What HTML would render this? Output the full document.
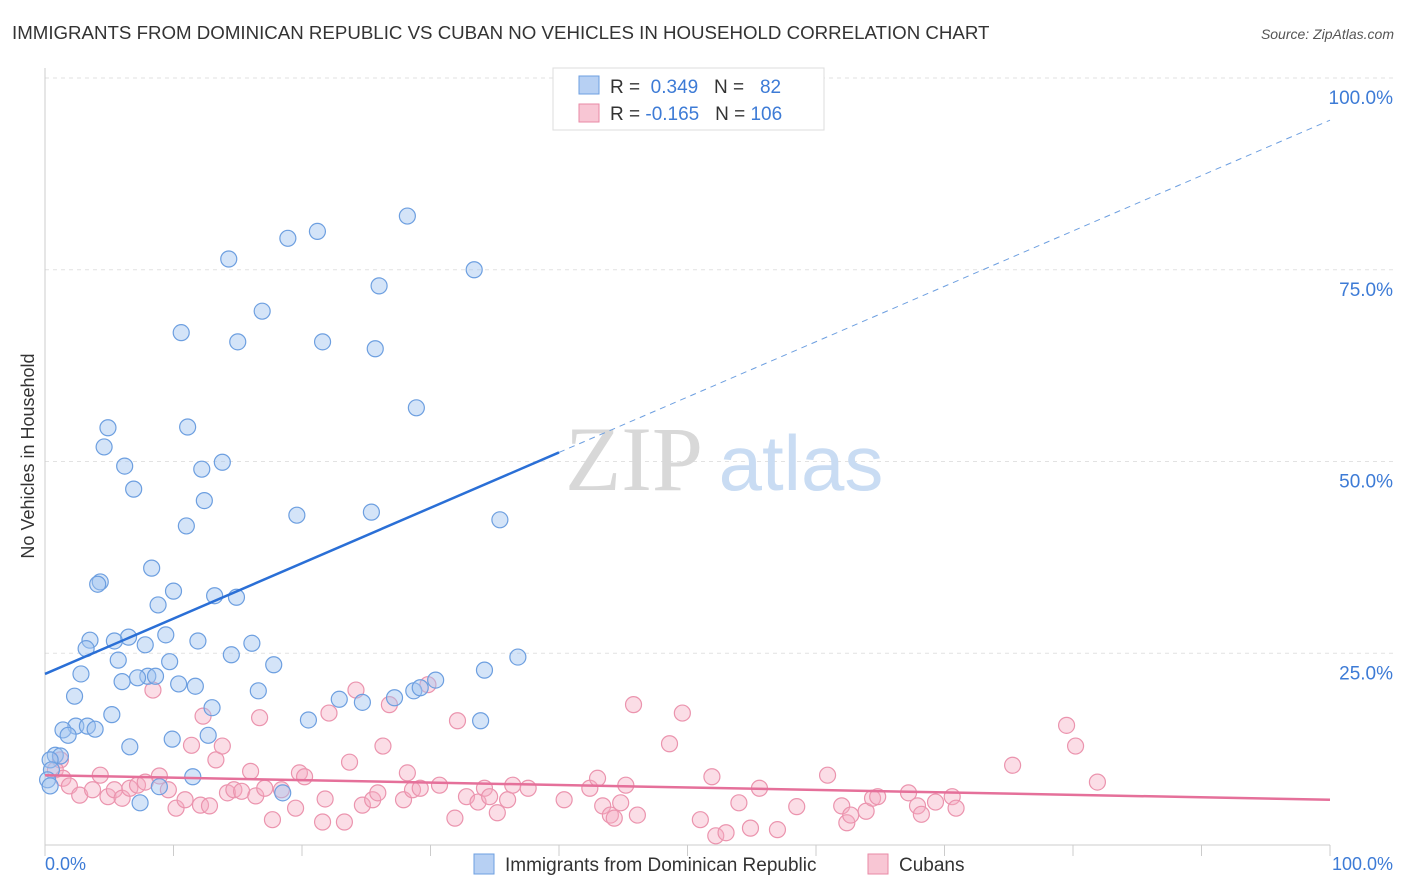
<!DOCTYPE html>
<html><head><meta charset="utf-8"><style>
body{margin:0;background:#fff;font-family:"Liberation Sans",sans-serif;}
svg{display:block}
</style></head><body>
<svg width="1406" height="892" viewBox="0 0 1406 892">
<text x="12" y="39" font-size="18.7" fill="#333">IMMIGRANTS FROM DOMINICAN REPUBLIC VS CUBAN NO VEHICLES IN HOUSEHOLD CORRELATION CHART</text>
<text x="1394" y="39" font-size="14" fill="#555" font-style="italic" text-anchor="end">Source: ZipAtlas.com</text>
<g id="grid"></g>
<g>
<text x="634" y="490" font-size="92" fill="#d8d8d8" font-family="Liberation Serif,serif" text-anchor="middle">ZIP</text>
<text x="801" y="490" font-size="78" fill="#c9dcf3" text-anchor="middle">atlas</text>
</g>
<g id="marks"></g>
<text transform="translate(34,456) rotate(-90)" font-size="18" fill="#333" text-anchor="middle">No Vehicles in Household</text>
<g>
<rect x="553" y="68" width="271" height="62" fill="#fff" stroke="#ddd"/>
<rect x="579" y="76" width="20" height="18" fill="#b7d0f3" stroke="#6d9fe0"/>
<rect x="579" y="104" width="20" height="18" fill="#f8c6d4" stroke="#e98aa6"/>
<text x="610" y="93" font-size="19" fill="#333">R = <tspan fill="#3d7bd6">&#160;0.349</tspan>&#160;&#160;&#160;N = <tspan fill="#3d7bd6">&#160;&#160;82</tspan></text>
<text x="610" y="120" font-size="19" fill="#333">R = <tspan fill="#3d7bd6">-0.165</tspan>&#160;&#160;&#160;N = <tspan fill="#3d7bd6">106</tspan></text>
</g>
<g>
<rect x="474" y="854" width="20" height="20" fill="#b7d0f3" stroke="#6d9fe0"/>
<text x="505" y="871" font-size="19" fill="#333">Immigrants from Dominican Republic</text>
<rect x="868" y="854" width="20" height="20" fill="#f8c6d4" stroke="#e98aa6"/>
<text x="899" y="871" font-size="19" fill="#333">Cubans</text>
</g>
<text x="45" y="870" font-size="18" fill="#3d7bd6">0.0%</text>
<text x="1393" y="870" font-size="18" fill="#3d7bd6" text-anchor="end">100.0%</text>
</svg>
<script>
const yTicks=[25,50,75,100];
const yTickLabels=["25.0%","50.0%","75.0%","100.0%"];
const xTicks=[0,10,20,30,40,50,60,70,80,90,100];
const blueX=[28.2,21.2,18.9,14.3,33.4,26.0,16.9,10.6,15.0,21.6,25.7,28.9,4.9,11.1,4.6,13.8,6.2,12.2,6.9,12.4,19.6,25.4,35.4,11.0,8.3,4.3,4.1,10.0,8.8,13.2,14.9,3.5,6.5,9.4,5.4,7.8,11.9,16.1,3.2,14.5,5.7,9.7,17.8,36.8,34.2,2.8,8.0,8.6,7.2,6.0,10.4,11.7,30.4,16.6,2.3,22.9,24.7,27.2,28.7,29.2,13.0,5.2,20.5,33.9,2.4,1.4,3.3,3.9,1.8,12.7,9.9,6.6,0.8,1.2,0.4,0.5,0.2,0.4,11.5,8.9,18.5,7.4];
const blueY=[82.0,80.0,79.1,76.4,75.0,72.9,69.6,66.8,65.6,65.6,64.7,57.0,54.4,54.5,51.9,49.9,49.4,49.0,46.4,44.9,43.0,43.4,42.4,41.6,36.1,34.3,34.0,33.1,31.3,32.5,32.3,26.7,27.1,27.4,26.6,26.1,26.6,26.3,25.6,24.8,24.1,23.9,23.5,24.5,22.8,22.3,22.0,22.0,21.8,21.3,21.0,20.7,21.5,20.1,19.4,19.0,18.6,19.2,20.1,20.5,17.9,17.0,16.3,16.2,15.5,15.0,15.5,15.1,14.3,14.3,13.8,12.8,11.7,11.6,11.1,9.8,8.5,7.7,8.9,7.6,6.8,5.5];
const pinkX=[1.2,0.8,1.4,1.9,2.7,3.7,4.3,4.9,5.4,6.0,6.6,7.2,7.8,8.4,8.9,9.6,10.2,10.9,11.4,12.1,12.3,12.8,13.3,13.8,14.2,14.7,15.3,16.0,16.4,16.7,17.1,17.7,18.4,19.5,19.8,20.2,21.6,21.8,22.1,23.3,23.7,24.2,24.7,25.5,25.9,26.3,26.8,27.9,28.2,28.6,29.2,29.8,30.7,31.9,32.1,32.8,33.7,34.2,34.6,35.2,36.0,36.4,37.6,40.4,42.4,43.0,43.4,44.0,44.3,44.8,45.2,45.8,46.1,48.6,49.6,51.0,51.9,52.2,53.0,54.0,54.9,55.6,57.0,58.5,60.9,62.0,62.4,62.7,63.9,64.4,64.8,67.2,67.9,68.2,69.3,70.6,70.9,75.3,79.5,80.2,81.9];
const pinkY=[11.1,9.8,8.7,7.7,6.5,7.2,9.1,6.3,7.2,6.1,7.4,7.8,8.2,20.2,9.0,7.2,4.8,5.9,13.0,5.2,16.8,5.1,11.1,12.9,6.8,7.2,7.0,9.6,6.4,16.6,7.4,3.3,7.2,4.8,9.4,8.9,3.0,6.0,17.2,3.0,10.8,20.2,5.2,5.9,6.8,12.9,18.3,5.9,9.4,7.2,7.4,20.9,7.8,3.5,16.2,6.3,5.6,7.4,6.3,4.2,5.9,7.8,7.4,5.9,7.4,8.7,5.1,3.9,3.5,5.5,7.8,18.3,3.9,13.2,17.2,3.3,8.9,1.2,1.6,5.5,2.2,7.4,2.0,5.0,9.1,5.1,2.9,3.9,4.4,6.1,6.3,6.8,5.1,4.0,5.6,6.3,4.8,10.4,15.6,12.9,8.2];
const blueTrend=[22.3,94.5];
const pinkTrend=[9.1,5.9];
const NS="http://www.w3.org/2000/svg";
const X=v=>45+v*12.85, Y=v=>845-v*7.67;
function mk(tag,attrs,parent){const e=document.createElementNS(NS,tag);for(const k in attrs)e.setAttribute(k,attrs[k]);parent.appendChild(e);return e;}
const grid=document.getElementById('grid'), marks=document.getElementById('marks');
yTicks.forEach((t,i)=>{
 const l=mk('line',{x1:45,x2:1393,y1:Y(t),y2:Y(t),stroke:'#e2e2e2','stroke-dasharray':'4,4'},grid);
 
 
 const tx=mk('text',{x:1393,y:Y(t)+26,'font-size':19,fill:'#3d7bd6','text-anchor':'end'},grid);
 tx.textContent=yTickLabels[i];
 
 
});
const ax=mk('line',{x1:45,x2:45,y1:68,y2:845,stroke:'#ccc'},grid);


const bx=mk('line',{x1:45,x2:1330,y1:845,y2:845,stroke:'#ccc'},grid);


xTicks.forEach(t=>{
 const l=mk('line',{x1:X(t),x2:X(t),y1:845,y2:856,stroke:'#ccc'},grid);
 
 
});
pinkX.forEach((x,i)=>{
 const c=mk('circle',{cx:X(x),cy:Y(pinkY[i]),r:8,fill:'rgba(244,170,192,0.4)',stroke:'#eb94ae','stroke-width':1.2},marks);
 
 
});
blueX.forEach((x,i)=>{
 const c=mk('circle',{cx:X(x),cy:Y(blueY[i]),r:8,fill:'rgba(160,196,240,0.45)',stroke:'#6d9fe0','stroke-width':1.2},marks);
 
 
});
const bAt=v=>blueTrend[0]+(blueTrend[1]-blueTrend[0])*v/100;
const t1=mk('line',{x1:X(0),y1:Y(bAt(0)),x2:X(40),y2:Y(bAt(40)),stroke:'#2a6fd6','stroke-width':2.5},marks);


const t2=mk('line',{x1:X(40),y1:Y(bAt(40)),x2:X(100),y2:Y(bAt(100)),stroke:'#6d9fe0','stroke-width':1,'stroke-dasharray':'6,5'},marks);


const t3=mk('line',{x1:X(0),y1:Y(pinkTrend[0]),x2:X(100),y2:Y(pinkTrend[1]),stroke:'#e5709a','stroke-width':2.5},marks);


</script>
</body></html>
